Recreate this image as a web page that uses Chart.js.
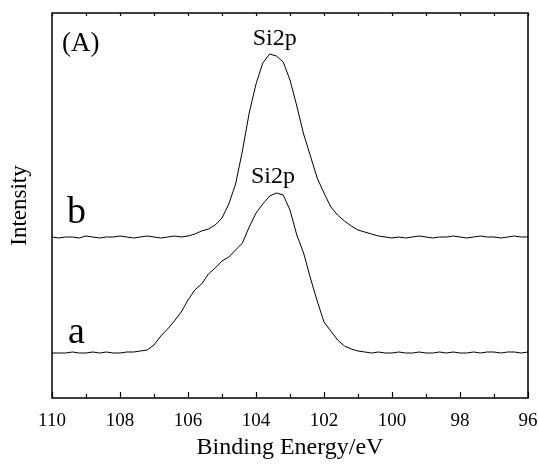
<!DOCTYPE html>
<html>
<head>
<meta charset="utf-8">
<script src="https://cdn.jsdelivr.net/npm/chart.js@4/dist/chart.umd.min.js"></script>
<style>
  html, body { margin: 0; padding: 0; background: #fff; }
  #wrap { width: 539px; height: 466px; }
</style>
</head>
<body>
<div id="wrap"><canvas id="myChart" width="539" height="466"></canvas></div>
<script>
// vazebná energie (eV), krok 0.2
const energies = [
  110.0, 109.8, 109.6, 109.4, 109.2, 109.0, 108.8, 108.6, 108.4, 108.2,
  108.0, 107.8, 107.6, 107.4, 107.2, 107.0, 106.8, 106.6, 106.4, 106.2,
  106.0, 105.8, 105.6, 105.4, 105.2, 105.0, 104.8, 104.6, 104.4, 104.2,
  104.0, 103.8, 103.6, 103.4, 103.2, 103.0, 102.8, 102.6, 102.4, 102.2,
  102.0, 101.8, 101.6, 101.4, 101.2, 101.0, 100.8, 100.6, 100.4, 100.2,
  100.0, 99.8, 99.6, 99.4, 99.2, 99.0, 98.8, 98.6, 98.4, 98.2,
  98.0, 97.8, 97.6, 97.4, 97.2, 97.0, 96.8, 96.6, 96.4, 96.2,
  96.0
];

// spektrum a (spodní)
const seriesA = [
  45, 45, 45, 46, 45, 45, 46, 45, 46, 45,
  45, 46, 46, 47, 48, 53, 62, 69, 77, 86,
  98, 108, 114, 124, 130, 137, 141, 148, 155, 171,
  185, 194, 202, 205, 203, 188, 163, 145, 120, 97,
  76, 67, 58, 52, 49, 47, 46, 45, 46, 45,
  45, 46, 45, 45, 46, 45, 45, 46, 45, 46,
  45, 45, 46, 45, 46, 46, 45, 46, 46, 45,
  46
];

// spektrum b (horní)
const seriesB = [
  161, 160, 161, 161, 160, 162, 161, 160, 161, 161,
  162, 161, 160, 161, 162, 161, 160, 161, 162, 161,
  162, 164, 167, 169, 173, 180, 194, 214, 247, 285,
  314, 335, 344, 342, 336, 318, 292, 264, 242, 220,
  205, 191, 183, 177, 172, 168, 166, 164, 162, 161,
  160, 161, 160, 161, 162, 161, 160, 161, 161, 162,
  161, 160, 161, 162, 161, 161, 160, 161, 162, 161,
  161
];

const xTicks = [110, 108, 106, 104, 102, 100, 98, 96];

const serif = "'Liberation Serif', 'DejaVu Serif', serif";

function toPoints(ys) {
  return energies.map((e, i) => ({ x: e, y: ys[i] }));
}

// rámeček, dovnitř orientované značky a popisky
const decor = {
  id: 'decor',
  afterDraw(chart) {
    const ctx = chart.ctx;
    const a = chart.chartArea;
    const xs = chart.scales.x;
    ctx.save();
    ctx.strokeStyle = '#000';
    ctx.lineWidth = 1.5;
    ctx.strokeRect(a.left, a.top, a.right - a.left, a.bottom - a.top);

    ctx.lineWidth = 1.2;
    for (let v = 96; v <= 110; v++) {
      const px = Math.round(xs.getPixelForValue(v)) + 0.5;
      const major = v % 2 === 0;
      ctx.beginPath();
      ctx.moveTo(px, a.bottom);
      ctx.lineTo(px, a.bottom - (major ? 6 : 4));
      ctx.moveTo(px, a.top);
      ctx.lineTo(px, a.top + 3);
      ctx.stroke();
    }

    ctx.fillStyle = '#000';
    ctx.textBaseline = 'alphabetic';
    ctx.textAlign = 'left';
    ctx.font = '27px ' + serif;
    ctx.fillText('(A)', a.left + 10, a.top + 38);

    ctx.font = '38px ' + serif;
    ctx.fillText('b', a.left + 15, 223);
    ctx.fillText('a', a.left + 16, 343);

    ctx.textAlign = 'center';
    ctx.font = '24px ' + serif;
    ctx.fillText('Si2p', xs.getPixelForValue(103.45), 45);
    ctx.fillText('Si2p', xs.getPixelForValue(103.5), 183);
    ctx.restore();
  }
};

const ctx = document.getElementById('myChart').getContext('2d');
new Chart(ctx, {
  type: 'line',
  data: {
    datasets: [
      {
        label: 'a',
        data: toPoints(seriesA),
        borderColor: '#000',
        borderWidth: 1,
        pointRadius: 0,
        tension: 0,
        fill: false
      },
      {
        label: 'b',
        data: toPoints(seriesB),
        borderColor: '#000',
        borderWidth: 1,
        pointRadius: 0,
        tension: 0,
        fill: false
      }
    ]
  },
  options: {
    responsive: false,
    animation: false,
    events: [],
    layout: { padding: { top: 13, right: 11, left: 0, bottom: 0 } },
    plugins: {
      legend: { display: false },
      tooltip: { enabled: false }
    },
    scales: {
      x: {
        type: 'linear',
        reverse: true,
        min: 96,
        max: 110,
        afterBuildTicks(scale) {
          scale.ticks = xTicks.map(v => ({ value: v }));
        },
        afterFit(scale) {
          scale.height = 68;
          scale.paddingLeft = 0;
          scale.paddingRight = 0;
        },
        grid: { display: false, drawTicks: false },
        border: { display: false },
        ticks: {
          color: '#000',
          padding: 12,
          maxRotation: 0,
          font: { family: serif, size: 19 }
        },
        title: {
          display: true,
          text: 'Binding Energy/eV',
          color: '#000',
          font: { family: serif, size: 24 },
          padding: { top: 0, bottom: 4 }
        }
      },
      y: {
        min: 0,
        max: 385,
        afterFit(scale) { scale.width = 52; },
        grid: { display: false, drawTicks: false },
        border: { display: false },
        ticks: { display: false },
        title: {
          display: true,
          text: 'Intensity',
          color: '#000',
          font: { family: serif, size: 23 },
          padding: { top: 6, bottom: 0 }
        }
      }
    }
  },
  plugins: [decor]
});
</script>
</body>
</html>
